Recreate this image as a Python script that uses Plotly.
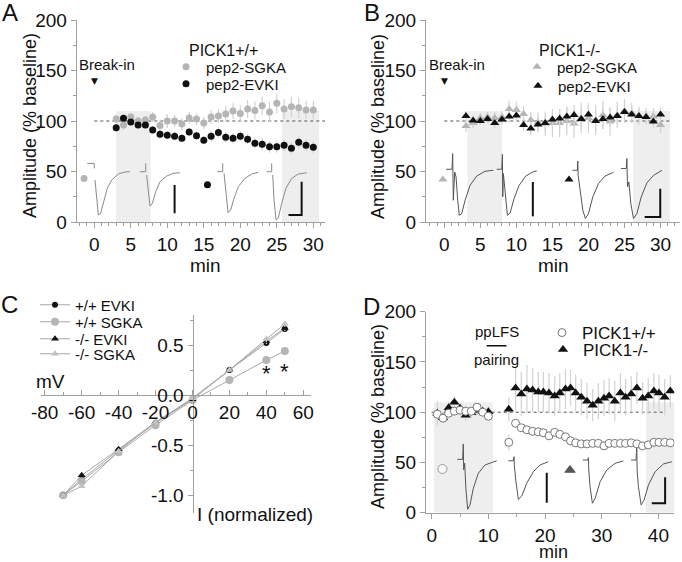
import plotly.graph_objects as go

W, H = 682, 562
FONT = "Liberation Sans, Arial, sans-serif"
GRAY = "#b5b5b5"
BLACK = "#111111"
ERR = "#d2d2d2"
AXC = "#a0a0a0"

# ---------------- data ----------------
# Panel A: PICK1+/+ (minutes, % baseline)
A_min = [3, 4, 5, 6, 7, 8, 9, 10, 11, 12, 13, 14, 15, 16, 17, 18, 19, 20, 21, 22, 23, 24, 25, 26, 27, 28, 29, 30]
A_sgka = [102, 96, 104, 100, 101, 104, 95.5, 100, 100, 97, 103, 102, 98, 104, 105, 107, 110, 107.5, 112, 110.5,
          115, 109, 117.5, 112, 114, 113, 111, 111]
A_sgka_err = [4, 5, 4, 4, 4, 5, 6, 7, 6, 6, 6, 6, 6, 7, 7, 8, 8, 8, 9, 9, 9, 10, 10, 10, 10, 10, 9, 9]
A_evki = [93.4, 102.7, 99, 96, 96, 91, 87, 86, 85, 83, 89, 85.5, 81, 85, 88.5, 84, 83, 85, 82, 78,
          77, 74.5, 74.5, 76, 73, 79, 76, 74]
A_evki_err = [4, 4, 4, 4, 4, 4, 4, 4, 4, 4, 4, 4, 4, 5, 5, 5, 5, 5, 5, 5, 6, 6, 6, 6, 6, 6, 6, 6]
A_shade = [(3.0, 7.7), (25.7, 30.8)]
A_key_t = [-1.4, 15.5]      # dots that label the example traces
A_key_v = [43, 37]

# Panel B: PICK1-/-
B_min = [3, 4, 5, 6, 7, 8, 9, 10, 11, 12, 13, 14, 15, 16, 17, 18, 19, 20, 21, 22, 23, 24, 25, 26, 27, 28, 29, 30]
B_sgka = [95, 98, 103, 104, 103, 104, 112, 111, 107, 101, 98.5, 97.5, 98, 98, 100, 97.5, 103, 103, 101, 106,
          99.5, 106, 110, 108, 105, 104.5, 104.5, 96]
B_sgka_err = [6, 5, 5, 5, 6, 6, 8, 8, 8, 8, 10, 12, 14, 14, 14, 14, 15, 15, 15, 14, 14, 13, 12, 10, 9, 8, 8, 8]
B_evki = [105, 100.5, 100, 102, 98, 101.5, 104.5, 105.5, 96, 92.5, 96.5, 98, 101.5, 102.5, 104.5, 106, 102, 106.5,
          100, 102, 103.5, 105, 109, 106.5, 105, 104, 99.5, 106.5]
B_evki_err = [5, 5, 4, 4, 5, 5, 6, 6, 6, 6, 7, 8, 8, 9, 9, 10, 10, 10, 10, 10, 9, 9, 8, 8, 7, 7, 7, 7]
B_shade = [(3.2, 8.0), (26.2, 31.3)]
B_key_t = [-0.2, 17.3]
B_key_v = [42, 42]

# Panel C: I-V relation
C_I = [-70, -60, -40, -20, 0, 20, 40, 50]
C_wt_evki = [-1.0, -0.84, -0.55, -0.28, -0.04, 0.25, 0.52, 0.66]
C_wt_sgka = [-1.0, -0.86, -0.57, -0.30, -0.05, 0.15, 0.35, 0.44]
C_ko_evki = [-1.0, -0.80, -0.54, -0.27, -0.04, 0.25, 0.54, 0.67]
C_ko_sgka = [-1.0, -0.91, -0.56, -0.27, -0.03, 0.25, 0.56, 0.71]
C_err = [0.0, 0.02, 0.02, 0.02, 0.02, 0.02, 0.03, 0.03]
C_sig_I = [40, 50]
C_sig_v = [0.22, 0.24]
C_xticks = [-80, -60, -40, -20, 0, 20, 40, 60]
C_xtext = ["-80", "-60", "-40", "-20", "0", "20", "40", "60"]
C_yticks = [-1.0, -0.5, 0.0, 0.5]
C_ytext = ["-1.0", "-0.5", "0.0", "0.5"]

# Panel D: ppLFS pairing
D_min = [1, 2, 3, 4, 5, 6, 7, 8, 9, 10,
         13.6, 14.8, 15.8, 16.8, 17.8, 18.8, 19.7, 20.7, 21.7, 22.6, 23.6, 24.5, 25.4, 26.4, 27.4,
         28.4, 29.4, 30.4, 31.3, 32.3, 33.3, 34.2, 35.2, 36.2, 37.2, 38.2, 39.2, 40.1, 41.1, 42.1]
D_wt = [98, 94, 99, 101, 102, 101, 101, 105, 100, 96,
        70, 89, 84.5, 82.5, 81, 80.5, 79.5, 76.5, 80, 78, 75.5, 71.5, 69.5, 68.5, 68.5,
        69, 69, 66.5, 69, 69, 69, 69, 69.5, 68.5, 66.5, 67.5, 70, 70, 70, 69.5]
D_wt_err = [4, 3, 3, 3, 3, 3, 3, 3, 3, 3,
            8, 4, 4, 4, 4, 4, 4, 4, 4, 4, 4, 3, 3, 3, 3, 3, 3, 3, 3, 3, 3, 3, 3, 3, 3, 3, 3, 3, 3, 3]
D_ko = [99, 94.5, 104.5, 110, 104, 97, 99.5, 102, 101, 100.5,
        103, 124, 118, 123, 122, 120, 120, 119, 116, 119, 123, 124, 119, 115, 111,
        107, 111, 114, 116, 111, 119, 115, 118, 124, 114, 116, 121, 119, 115, 121]
D_ko_err = [12, 5, 6, 6, 6, 6, 5, 5, 5, 5,
            12, 22, 22, 24, 22, 20, 20, 20, 20, 20, 20, 18, 18, 18, 18, 16, 18, 18, 18, 20,
            20, 18, 18, 16, 16, 18, 18, 18, 18, 16]
D_shade = [(0.4, 10.8), (37.8, 42.8)]
D_pair = [9.7, 13.2]
D_key_t = [1.9, 24.4]
D_key_v = [43.5, 42.5]

# example EPSC traces (min, % baseline) with stimulus marks
A_traces = [
    ([-0.96, 0, 0, None, 0.1, 0.33, 0.55, 0.87, 1.33, 1.78, 2.38, 3.29, 4.2, 4.89],
     [58, 58, 53, None, 41.6, 21.8, 6.9, 8.6, 21.8, 33.4, 41.6, 47.5, 49.5, 49.8]),
    ([6.26, 7.04, 7.04, None, 7.17, 7.4, 7.63, 7.95, 8.41, 9.0, 9.92, 10.82, 11.74],
     [49.8, 49.8, 58.1, None, 46.5, 28.4, 15.8, 18.5, 30, 39.9, 45.5, 48.2, 48.8]),
    ([16.85, 17.59, 17.59, None, 17.77, 18.0, 18.32, 18.68, 19.14, 19.73, 20.64, 21.56, 22.47],
     [49.8, 49.8, 58.1, None, 48.2, 28.4, 9.2, 11.9, 23.5, 35, 43.3, 47.5, 49.2]),
    ([23.62, 24.3, 24.3, None, 24.44, 24.62, 24.89, 25.2, 25.67, 26.26, 27.04, 27.95, 29.1],
     [49.8, 49.8, 58.1, None, 46.5, 21.8, 2, 3.7, 18.5, 33.4, 43.3, 47.5, 48.8]),
]
A_bars = ([11.0, 11.0, None, 28.4, 28.4, 26.6], [36.6, 8.6, None, 39.9, 6.9, 6.9])

B_traces = [
    ([0.24, 1.07, 1.16, 1.25, 1.44, 1.63, 1.86, 2.08, 2.42, 2.88, 3.57, 4.5, 5.65, 6.8],
     [52.2, 52.2, 67.7, 21.5, 49.5, 44.6, 21.5, 6.6, 8.3, 21.5, 36.3, 45.5, 50.2, 51.2]),
    ([7.27, 7.97, 8.06, 8.11, 8.2, 8.43, 8.75, 9.13, 9.68, 10.38, 11.3, 12.36, 12.83],
     [52.2, 52.2, 67, 24.8, 47.9, 31.4, 6.6, 8.9, 23.2, 36.3, 45.5, 49.9, 50.5]),
    ([17.78, 18.47, 18.52, 18.57, 18.85, 19.22, 19.58, 20.0, 20.6, 21.39, 22.3, 23.47],
     [51.2, 51.2, 60.4, 46.2, 31.4, 11.6, 3.4, 8.3, 24.8, 38, 45.5, 49.2]),
    ([24.5, 25.24, 25.33, 25.42, 25.61, 25.88, 26.25, 26.72, 27.32, 28.1, 29.03, 30.2],
     [52.9, 52.9, 62.8, 34.7, 39.6, 18.2, 3.4, 8.3, 24.8, 38.6, 46.2, 51.2]),
]
B_bars = ([12.28, 12.28, None, 29.96, 29.96, 27.8], [39.6, 5.6, None, 33, 5, 5])

D_traces = [
    ([4.52, 5.47, 5.58, 5.65, 5.82, 6.05, 6.35, 6.76, 7.35, 8.23, 9.41, 11.47],
     [53.1, 53.1, 68.4, 42.5, 49.2, 22.6, 3.4, 7.7, 24.3, 39.2, 47.5, 51.7]),
    ([13.53, 14.41, 14.53, 14.58, 14.83, 15.29, 15.89, 16.77, 17.94, 19.12, 20.58],
     [51.7, 51.7, 55.7, 47.5, 32.5, 13.3, 16.6, 29.3, 40.8, 47.5, 50.7]),
    ([26.65, 27.54, 27.65, 27.71, 27.94, 28.35, 28.83, 29.71, 30.89, 32.36, 33.82],
     [52.4, 52.4, 54.7, 42.5, 25.9, 9.4, 14.3, 30.8, 42.5, 49.2, 51.4]),
    ([35.18, 36.06, 36.18, 36.24, 36.47, 36.95, 37.48, 38.24, 39.42, 40.88, 42.37],
     [52.4, 52.4, 67.4, 42.5, 25.9, 7.7, 12.6, 27.6, 40.8, 48.5, 50.7]),
]
D_bars = ([20.3, 20.3, None, 41.18, 41.18, 38.83], [39.8, 10, None, 35.2, 9.4, 9.4])

BASELINE = 100

fig = go.Figure()


def err(vals):
    return dict(type="data", array=vals, visible=True, color=ERR, thickness=1.2, width=0)


def add_traces(traces, xa, ya, color):
    for t, v in traces:
        fig.add_trace(go.Scatter(x=t, y=v, mode="lines", xaxis=xa, yaxis=ya, showlegend=False,
                                 line=dict(color=color, width=1), hoverinfo="skip"))


def add_bars(bars, xa, ya):
    fig.add_trace(go.Scatter(x=bars[0], y=bars[1], mode="lines", xaxis=xa, yaxis=ya, showlegend=False,
                             line=dict(color=BLACK, width=2), hoverinfo="skip"))


def add_frame(xr, yr, shades, x0, x1):
    for s0, s1 in shades:
        fig.add_shape(type="rect", xref=xr, yref=yr, x0=s0, x1=s1, y0=0, y1=110,
                      fillcolor="#eeeeee", line_width=0, layer="below")
    fig.add_shape(type="line", xref=xr, yref=yr, x0=x0, x1=x1, y0=BASELINE, y1=BASELINE,
                  line=dict(color="#555555", width=1, dash="dot"), layer="below")


# ---- Panel A ----
add_frame("x", "y", A_shade, 0, 31.6)
add_traces(A_traces, "x", "y", "#8a8a8a")
add_bars(A_bars, "x", "y")
fig.add_trace(go.Scatter(x=A_min, y=A_sgka, mode="markers", name="pep2-SGKA", error_y=err(A_sgka_err),
                         marker=dict(color=GRAY, size=7), legend="legend"))
fig.add_trace(go.Scatter(x=A_min, y=A_evki, mode="markers", name="pep2-EVKI", error_y=err(A_evki_err),
                         marker=dict(color=BLACK, size=7), legend="legend2"))
fig.add_trace(go.Scatter(x=A_key_t, y=A_key_v, mode="markers", showlegend=False,
                         marker=dict(color=[GRAY, BLACK], size=7)))

# ---- Panel B ----
add_frame("x2", "y2", B_shade, 0, 31.5)
add_traces(B_traces, "x2", "y2", "#555555")
add_bars(B_bars, "x2", "y2")
fig.add_trace(go.Scatter(x=B_min, y=B_sgka, mode="markers", name="pep2-SGKA", error_y=err(B_sgka_err),
                         xaxis="x2", yaxis="y2", marker=dict(color=GRAY, size=8, symbol="triangle-up"),
                         legend="legend3"))
fig.add_trace(go.Scatter(x=B_min, y=B_evki, mode="markers", name="pep2-EVKI", error_y=err(B_evki_err),
                         xaxis="x2", yaxis="y2", marker=dict(color=BLACK, size=8, symbol="triangle-up"),
                         legend="legend4"))
fig.add_trace(go.Scatter(x=B_key_t, y=B_key_v, mode="markers", showlegend=False, xaxis="x2", yaxis="y2",
                         marker=dict(color=[GRAY, BLACK], size=8, symbol="triangle-up")))

# ---- Panel C ----
c_series = [
    ("+/+ EVKI", C_wt_evki, BLACK, "circle", 6, "legend5"),
    ("+/+ SGKA", C_wt_sgka, GRAY, "circle", 8, "legend6"),
    ("-/- EVKI", C_ko_evki, BLACK, "triangle-up", 7, "legend7"),
    ("-/- SGKA", C_ko_sgka, "#c2c2c2", "triangle-up", 7, "legend8"),
]
for name, vals, col, sym, sz, lg in c_series:
    fig.add_trace(go.Scatter(x=C_I, y=vals, mode="lines+markers", name=name, xaxis="x3", yaxis="y3",
                             error_y=err(C_err), line=dict(color="#a8a8a8", width=1),
                             marker=dict(color=col, size=sz, symbol=sym), legend=lg))
for xi, yi in zip(C_sig_I, C_sig_v):
    fig.add_annotation(x=xi, y=yi, xref="x3", yref="y3", text="*", showarrow=False,
                       font=dict(family=FONT, size=22, color=BLACK))

# ---- Panel D ----
add_frame("x4", "y4", D_shade, 0, 41.2)
add_traces(D_traces, "x4", "y4", "#555555")
add_bars(D_bars, "x4", "y4")
fig.add_trace(go.Scatter(x=D_min, y=D_ko, mode="markers", name="PICK1-/-", error_y=err(D_ko_err),
                         xaxis="x4", yaxis="y4", marker=dict(color=BLACK, size=9, symbol="triangle-up"),
                         legend="legend10"))
fig.add_trace(go.Scatter(x=D_min, y=D_wt, mode="markers", name="PICK1+/+", error_y=err(D_wt_err),
                         xaxis="x4", yaxis="y4",
                         marker=dict(color="white", size=8, line=dict(color="#777777", width=1)),
                         legend="legend9"))
fig.add_trace(go.Scatter(x=D_key_t, y=D_key_v, mode="markers", showlegend=False, xaxis="x4", yaxis="y4",
                         marker=dict(color=["white", BLACK], size=[9, 9], symbol=["circle", "triangle-up"],
                                     line=dict(color=["#777777", BLACK], width=1))))
fig.add_shape(type="line", xref="x4", yref="y4", x0=D_pair[0], x1=D_pair[1], y0=166, y1=166,
              line=dict(color=BLACK, width=1.5))
fig.add_annotation(x=sum(D_pair) / 2, y=180, xref="x4", yref="y4", text="ppLFS", showarrow=False,
                   font=dict(family=FONT, size=15, color=BLACK))
fig.add_annotation(x=sum(D_pair) / 2, y=152, xref="x4", yref="y4", text="pairing", showarrow=False,
                   font=dict(family=FONT, size=15, color=BLACK))

# ---- axes ----
tickfont = dict(family=FONT, size=19, color=BLACK)
base = dict(showgrid=False, zeroline=False, showline=True, linecolor=AXC, linewidth=1, automargin=False,
            ticks="outside", ticklen=5, tickcolor=AXC, tickfont=tickfont)


def px_x(p):
    return p / W


def px_y(p):
    return 1 - p / H


def minor(d):
    return dict(dtick=d, ticks="outside", ticklen=3, tickcolor=AXC)


amp_y = dict(base, range=[0, 200], tick0=0, dtick=50, minor=minor(25))
fig.update_layout(
    xaxis=dict(base, domain=[px_x(76.7), px_x(325)], range=[-2.41, 31.6], tick0=0, dtick=5,
               minor=minor(1), anchor="y"),
    yaxis=dict(amp_y, domain=[px_y(222), px_y(20)], anchor="x"),
    xaxis2=dict(base, domain=[px_x(426), px_x(680)], range=[-2.54, 32.7], tick0=0, dtick=5,
                minor=minor(1), anchor="y2"),
    yaxis2=dict(amp_y, domain=[px_y(222), px_y(20)], anchor="x2"),
    xaxis3=dict(base, domain=[px_x(41), px_x(310.7)], range=[-82, 64],
                tickmode="array", tickvals=C_xticks, ticktext=C_xtext,
                minor=dict(dtick=10, tick0=0, ticks="inside", ticklen=3, tickcolor=AXC), ticks="inside",
                anchor="free", position=px_y(395)),
    yaxis3=dict(base, domain=[px_y(513.3), px_y(315)], range=[-1.18, 0.80],
                tickmode="array", tickvals=C_yticks, ticktext=C_ytext,
                minor=dict(dtick=0.25, tick0=0, ticks="outside", ticklen=3, tickcolor=AXC),
                anchor="free", position=px_x(192.5)),
    xaxis4=dict(base, domain=[px_x(426), px_x(674.3)], range=[-1.0, 42.8], tick0=0, dtick=10,
                minor=minor(5), anchor="y4"),
    yaxis4=dict(amp_y, domain=[px_y(512.7), px_y(311.7)], anchor="x4"),
)


# ---- legends (one per entry so they can sit where the originals do) ----
def leg(px, py, size=15):
    return dict(x=px_x(px), y=px_y(py), xanchor="left", yanchor="middle", bgcolor="rgba(0,0,0,0)",
                borderwidth=0, itemwidth=30, tracegroupgap=0,
                font=dict(family=FONT, size=size, color=BLACK))


fig.update_layout(
    legend=leg(166, 67), legend2=leg(166, 84),
    legend3=leg(517, 67), legend4=leg(518, 86),
    legend5=leg(35, 305), legend6=leg(35, 322), legend7=leg(35, 339), legend8=leg(35, 354),
    legend9=leg(542, 333, 17), legend10=leg(543, 350, 17),
)


# ---- text ----
def note(text, px, py, size, angle=0):
    fig.add_annotation(x=px_x(px), y=px_y(py), xref="paper", yref="paper", text=text, showarrow=False,
                       xanchor="center", yanchor="middle", textangle=angle, borderpad=0,
                       font=dict(family=FONT, size=size, color=BLACK))


for letter, px, py in [("A", 10, 13), ("B", 372, 13), ("C", 9, 304), ("D", 371, 306)]:
    note(letter, px, py, 24)
note("Amplitude (% baseline)", 30, 126, 18, -90)
note("Amplitude (% baseline)", 378, 126, 18, -90)
note("Amplitude (% baseline)", 378, 416, 18, -90)
note("min", 205, 265, 19)
note("min", 553, 265, 19)
note("min", 553, 552, 18)
note("PICK1+/+", 223, 50, 16)
note("PICK1-/-", 569, 50, 16)
note("mV", 50, 381, 19)
note("I (normalized)", 255, 514, 19)

for xa, ya in [("x", "y"), ("x2", "y2")]:
    fig.add_annotation(x=1.7, y=156, xref=xa, yref=ya, text="Break-in", showarrow=False,
                       font=dict(family=FONT, size=15, color=BLACK))
    fig.add_annotation(x=0, y=140, xref=xa, yref=ya, text="▼", showarrow=False,
                       font=dict(family="DejaVu Sans", size=9, color=BLACK))

fig.update_layout(template="none", width=W, height=H, margin=dict(l=0, r=0, t=0, b=0, autoexpand=False),
                  paper_bgcolor="white", plot_bgcolor="white", font=dict(family=FONT, color=BLACK))

# the page's default body margin would push the figure 8px off the window
fig.write_html("out.html", config={"displayModeBar": False},
               post_script="document.body.style.margin = '0px';")
